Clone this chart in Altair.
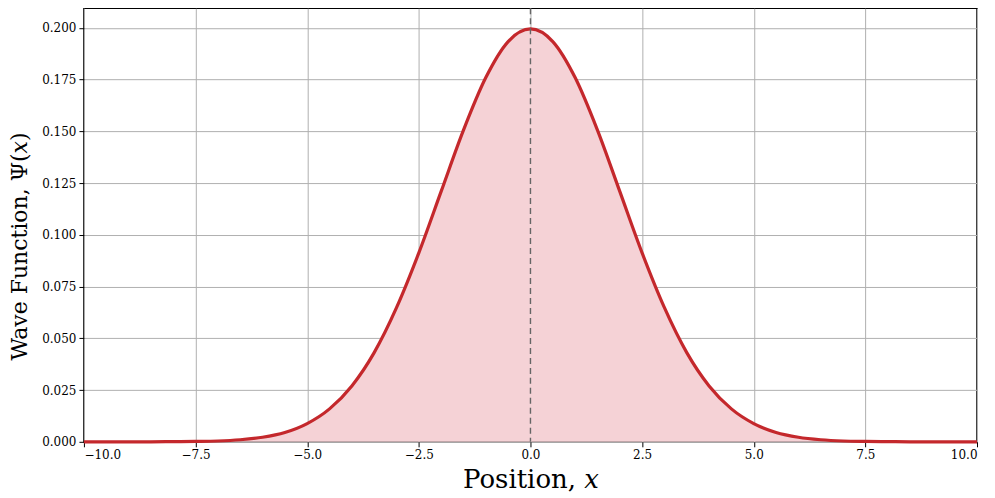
import altair as alt
import pandas as pd

x_vals = [-10.0, -9.5, -9.0, -8.5, -8.0, -7.5, -7.0, -6.5, -6.0, -5.5, -5.0, -4.5, -4.0, -3.5,
          -3.0, -2.5, -2.0, -1.5, -1.0, -0.5, 0.0, 0.5, 1.0, 1.5, 2.0, 2.5, 3.0, 3.5, 4.0,
          4.5, 5.0, 5.5, 6.0, 6.5, 7.0, 7.5, 8.0, 8.5, 9.0, 9.5, 10.0]
psi_vals = [0.0000, 0.0000, 0.0000, 0.0000, 0.0001, 0.0002, 0.0004, 0.0010, 0.0022, 0.0045,
            0.0088, 0.0159, 0.0270, 0.0431, 0.0648, 0.0913, 0.1210, 0.1506, 0.1760, 0.1934,
            0.1995, 0.1934, 0.1760, 0.1506, 0.1210, 0.0913, 0.0648, 0.0431, 0.0270, 0.0159,
            0.0088, 0.0045, 0.0022, 0.0010, 0.0004, 0.0002, 0.0001, 0.0000, 0.0000, 0.0000,
            0.0000]
x_ticks = [-10.0, -7.5, -5.0, -2.5, 0.0, 2.5, 5.0, 7.5, 10.0]
y_ticks = [0.000, 0.025, 0.050, 0.075, 0.100, 0.125, 0.150, 0.175, 0.200]
center_x = [0.0]

df = pd.DataFrame({"x": x_vals, "psi": psi_vals})
df_center = pd.DataFrame({"x": center_x})

FONT = "DejaVu Serif"

x_enc = alt.X(
    "x:Q",
    scale=alt.Scale(domain=[-10, 10], nice=False, zero=False),
    axis=alt.Axis(
        values=x_ticks, format=".1f", title="Position, 𝑥",
        titleFontSize=26, titleFont=FONT, titleFontWeight="normal", titleColor="black",
        titlePadding=6,
        labelFont=FONT, labelFontSize=12, labelColor="black", labelPadding=3,
        tickColor="black", tickSize=5, domain=False,
        grid=True, gridColor="#b0b0b0", gridWidth=1,
    ),
)
y_enc = alt.Y(
    "psi:Q",
    scale=alt.Scale(domain=[0, 0.2095], nice=False, zero=True),
    axis=alt.Axis(
        values=y_ticks, format=".3f", title="Wave Function, Ψ(𝑥)",
        titleFontSize=22, titleFont=FONT, titleFontWeight="normal", titleColor="black",
        titlePadding=10, titleY=238,
        labelFont=FONT, labelFontSize=12, labelColor="black", labelPadding=3,
        tickColor="black", tickSize=5, domain=False,
        grid=True, gridColor="#b0b0b0", gridWidth=1,
    ),
)

area = alt.Chart(df).mark_area(
    interpolate="monotone", color="#f5d2d6", opacity=1
).encode(x=x_enc, y=y_enc)

line = alt.Chart(df).mark_line(
    interpolate="monotone", color="#c4282c", strokeWidth=3.2
).encode(x="x:Q", y="psi:Q")

rule = alt.Chart(df_center).mark_rule(
    color="#666666", strokeDash=[6, 4], strokeWidth=1.4
).encode(x="x:Q")

chart = alt.layer(area, line, rule).properties(
    width=894, height=434,
    autosize=alt.AutoSizeParams(type="none"),
    padding={"left": 76, "top": 0, "right": 10, "bottom": 56},
).configure_view(
    stroke="black", strokeWidth=1.5
)

chart.save("out.html", embed_options={"renderer": "svg", "actions": False})
